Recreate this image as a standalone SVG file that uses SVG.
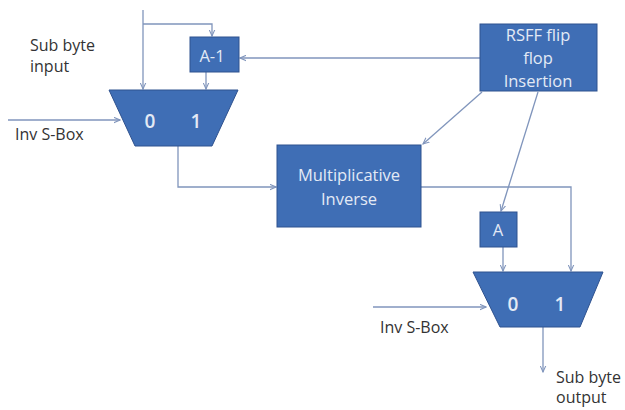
<svg xmlns="http://www.w3.org/2000/svg" width="625" height="410" viewBox="0 0 625 410">
<defs>
<marker id="ah" viewBox="0 0 10 10" refX="9" refY="5" markerWidth="7" markerHeight="7" orient="auto" markerUnits="userSpaceOnUse">
<path d="M0,1 L9,5 L0,9" fill="none" stroke="#8095BC" stroke-width="1.5"/>
</marker>
<style>
.blk{fill:#3F6EB5;stroke:#2F528F;stroke-width:1}
.ln{fill:none;stroke:#8095BC;stroke-width:1.3}
.in{font-family:"Open Sans","Liberation Sans",sans-serif;font-size:16.5px;fill:#E3EAF5;text-anchor:middle}
.dg{font-family:"Open Sans","Liberation Sans",sans-serif;font-size:19px;font-weight:600;fill:#E3EAF5;text-anchor:middle}
.lb{font-family:"Open Sans","Liberation Sans",sans-serif;font-size:16px;fill:#333}
</style>
</defs>
<rect width="625" height="410" fill="#fff"/>
<g id="connectors">
<path class="ln" d="M143,10 V89" marker-end="url(#ah)"/>
<path class="ln" d="M143,24 H212 V36" marker-end="url(#ah)"/>
<path class="ln" d="M206,72 V89" marker-end="url(#ah)"/>
<path class="ln" d="M480,58 H240" marker-end="url(#ah)"/>
<path class="ln" d="M8,120 H120" marker-end="url(#ah)"/>
<path class="ln" d="M178,146 V187 H276" marker-end="url(#ah)"/>
<path class="ln" d="M482,92 L423,144" marker-end="url(#ah)"/>
<path class="ln" d="M538,92 L501,211" marker-end="url(#ah)"/>
<path class="ln" d="M421,187 H571 V271" marker-end="url(#ah)"/>
<path class="ln" d="M503,247 V271" marker-end="url(#ah)"/>
<path class="ln" d="M373,307 H486" marker-end="url(#ah)"/>
<path class="ln" d="M543,327 V372" marker-end="url(#ah)"/>
</g>
<g id="ainv">
<rect class="blk" x="190" y="37" width="49" height="35"/>
<text class="in" x="212" y="62" font-size="12">A-1</text>
</g>
<g id="mux1">
<polygon class="blk" points="109,90 238,90 212,146 135,146"/>
<text class="dg" x="150" y="128">0</text>
<text class="dg" x="196" y="128">1</text>
</g>
<g id="rsff">
<rect class="blk" x="480" y="24" width="117" height="67"/>
<text class="in" x="538" y="41">RSFF flip</text>
<text class="in" x="538" y="64">flop</text>
<text class="in" x="538" y="87">Insertion</text>
</g>
<g id="mult">
<rect class="blk" x="277" y="145" width="144" height="82"/>
<text class="in" x="349" y="181">Multiplicative</text>
<text class="in" x="349" y="205">Inverse</text>
</g>
<g id="a">
<rect class="blk" x="480" y="212" width="37" height="35"/>
<text class="in" x="498" y="236" font-size="14">A</text>
</g>
<g id="mux2">
<polygon class="blk" points="473,272 603,272 580,327 500,327"/>
<text class="dg" x="513" y="311">0</text>
<text class="dg" x="560" y="311">1</text>
</g>
<g id="labels">
<text class="lb" x="30" y="51">Sub byte</text>
<text class="lb" x="30" y="72">input</text>
<text class="lb" x="15" y="140">Inv S-Box</text>
<text class="lb" x="380" y="333">Inv S-Box</text>
<text class="lb" x="556" y="383" font-size="15">Sub byte</text>
<text class="lb" x="556" y="403" font-size="15">output</text>
</g>
</svg>
